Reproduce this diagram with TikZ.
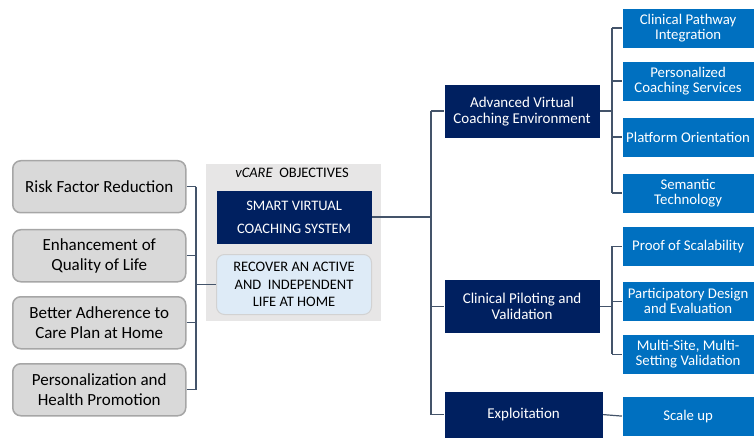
\documentclass[tikz,border=0pt]{standalone}
\usepackage{fontspec}
\setmainfont{Carlito}
\definecolor{navy}{HTML}{002060}
\definecolor{midblue}{HTML}{0070C0}
\definecolor{goalfill}{HTML}{D9D9D9}
\definecolor{goalline}{HTML}{A6A6A6}
\definecolor{panelgray}{HTML}{E7E6E6}
\definecolor{paleblue}{HTML}{DEEBF7}
\definecolor{linkgray}{HTML}{44546A}

\begin{document}
\begin{tikzpicture}[x=1pt,y=-1pt,line width=1.2pt,
  goal/.style={draw=goalline,fill=goalfill,rounded corners=8pt,line width=1.5pt,
    minimum width=173pt,minimum height=52pt,inner sep=0pt,anchor=north west,
    align=center,font=\fontsize{17pt}{20pt}\selectfont},
  navybox/.style={fill=navy,text=white,inner sep=0pt,anchor=north west,
    minimum width=155pt,minimum height=53pt,align=center,
    font=\fontsize{15pt}{16pt}\selectfont},
  leaf/.style={fill=midblue,text=white,inner sep=1pt,anchor=north west,
    minimum width=131pt,minimum height=39pt,align=center,
    font=\fontsize{14.8pt}{15pt}\selectfont},
  link/.style={draw=linkgray,line width=1.2pt}]
\useasboundingbox (0,0) rectangle (754,438);
\def\lbus{196}
\def\trunk{431}
\def\rbus{612}

% objectives panel
\node[fill=panelgray,minimum width=175pt,minimum height=157pt,inner sep=0pt,anchor=north west] (panel) at (205,163) {};
\node[font=\fontsize{14.5pt}{16pt}\selectfont] (title) at (292,173) {\textit{vCARE}\ \ OBJECTIVES};
\node[navybox,font=\fontsize{14.5pt}{23pt}\selectfont] (smart) at (216,190) {SMART VIRTUAL\\COACHING SYSTEM};
\node[fill=paleblue,draw=goalline!50,rounded corners=8pt,line width=1pt,inner sep=0pt,anchor=north west,
  minimum width=155pt,minimum height=60pt,align=center,font=\fontsize{14.5pt}{17.5pt}\selectfont]
  (recover) at (216,254) {RECOVER AN ACTIVE\\AND\ \ INDEPENDENT\\LIFE AT HOME};

% goals on the left
\node[goal] (risk) at (12,160) {Risk Factor Reduction};
\node[goal] (qol) at (12,229) {Enhancement of\\Quality of Life};
\node[goal] (adh) at (12,296) {Better Adherence to\\Care Plan at Home};
\node[goal] (promo) at (12,363) {Personalization and\\Health Promotion};

\coordinate (lb) at (\lbus,0);
\foreach \g in {risk,qol,adh,promo}
  \draw[link] (\g.east) -- (\g.east -| lb);
\draw[link] (risk.east -| lb) -- (promo.east -| lb);
\draw[link] (recover.west -| lb) -- (recover.west);

% main branches
\node[navybox] (adv) at (444,84) {Advanced Virtual\\Coaching Environment};
\node[navybox] (pilot) at (444,279) {Clinical Piloting and\\Validation};
\node[navybox,minimum width=158pt,minimum height=46pt] (expl) at (444,391) {Exploitation};

\coordinate (tk) at (\trunk,0);
\draw[link] (smart.east) -- (smart.east -| tk);
\draw[link] (adv.west -| tk) -- (expl.west -| tk);
\foreach \b in {adv,pilot,expl}
  \draw[link] (\b.west -| tk) -- (\b.west);

% leaves
\node[leaf] (cpi) at (622,8) {Clinical Pathway\\Integration};
\node[leaf] (pcs) at (622,61) {Personalized\\Coaching Services};
\node[leaf] (plat) at (622,117) {Platform Orientation};
\node[leaf] (sem) at (622,173) {Semantic\\Technology};
\node[leaf] (proof) at (622,226) {Proof of Scalability};
\node[leaf] (part) at (622,281) {Participatory Design\\and Evaluation};
\node[leaf] (multi) at (622,334) {Multi-Site, Multi-\\Setting Validation};
\node[leaf] (scale) at (622,396) {Scale up};

\coordinate (rb) at (\rbus,0);
\draw[link] (adv.east) -- (adv.east -| rb);
\draw[link] (cpi.west -| rb) -- (sem.west -| rb);
\foreach \l in {cpi,pcs,plat,sem}
  \draw[link] (\l.west -| rb) -- (\l.west);
\draw[link] (pilot.east) -- (pilot.east -| rb);
\draw[link] (proof.west -| rb) -- (multi.west -| rb);
\foreach \l in {proof,part,multi}
  \draw[link] (\l.west -| rb) -- (\l.west);
\draw[link] (expl.east) -- (scale.west);
\end{tikzpicture}
\end{document}
